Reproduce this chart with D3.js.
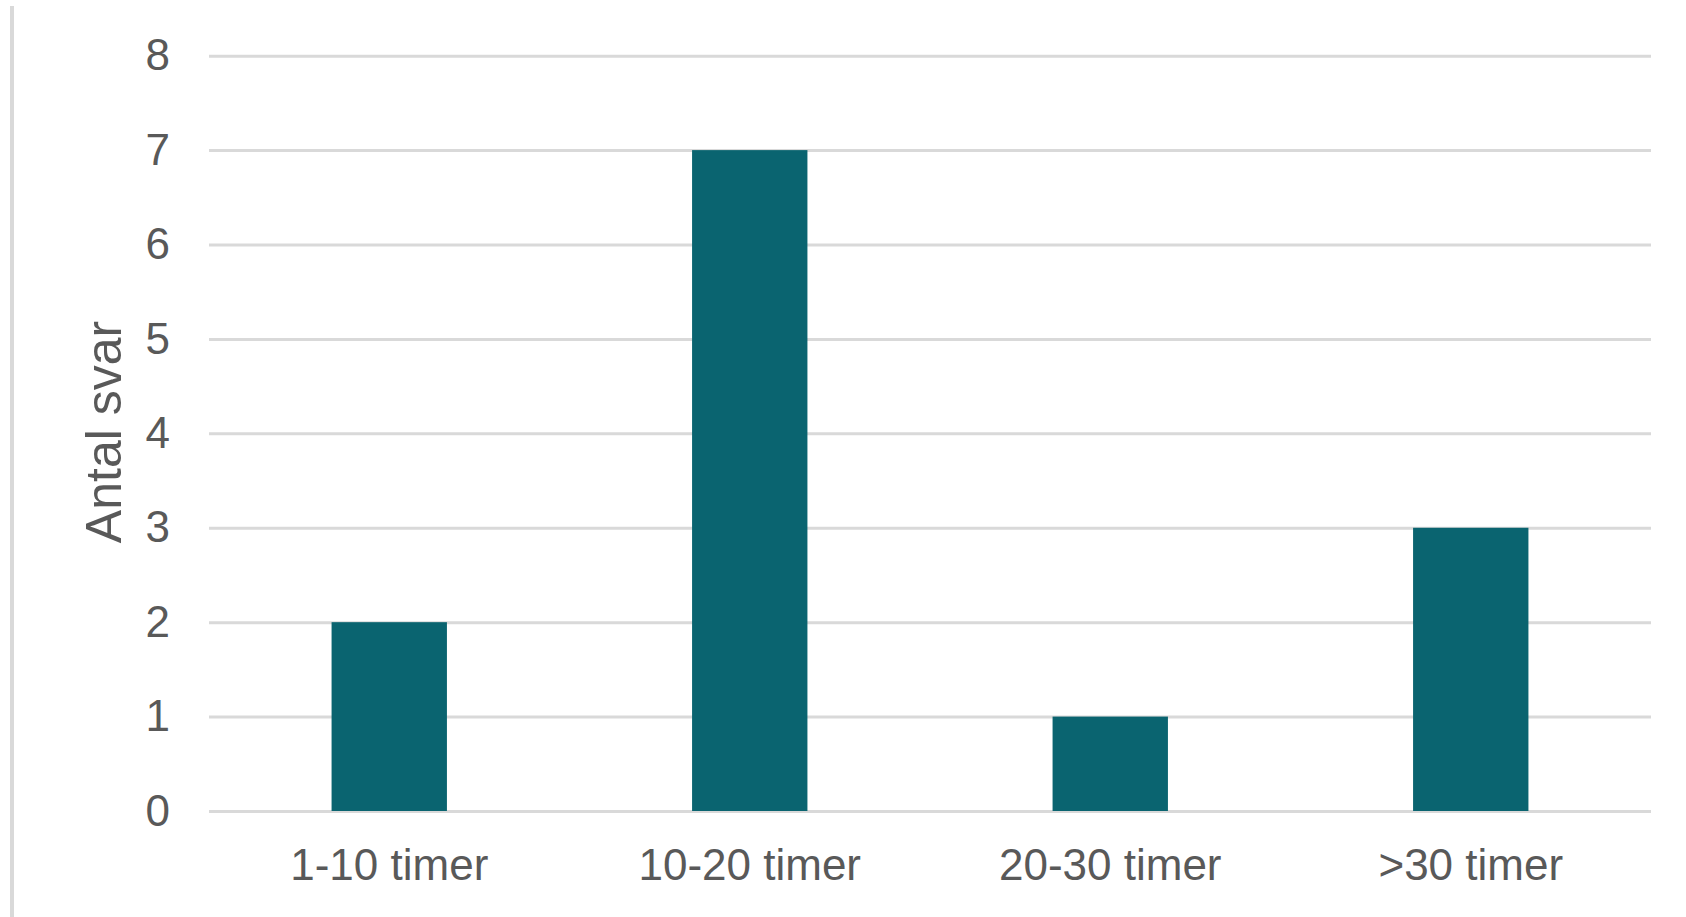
<!DOCTYPE html>
<html>
<head>
<meta charset="utf-8">
<script src="https://cdn.jsdelivr.net/npm/d3@7"></script>
<style>
  html, body { margin: 0; padding: 0; background: #ffffff; }
  svg { display: block; }
  text { font-family: "Liberation Sans", Arial, sans-serif; fill: #595959; }
</style>
</head>
<body>
<script>
const categories = ["1-10 timer", "10-20 timer", "20-30 timer", ">30 timer"];
const values = [2, 7, 1, 3];
const yTicks = [0, 1, 2, 3, 4, 5, 6, 7, 8];
const yTitle = "Antal svar";

const W = 1686, H = 917;
const svg = d3.select("body").append("svg").attr("width", W).attr("height", H);

const x = d3.scaleBand().domain(categories).range([209, 1651]).paddingInner(0.68).paddingOuter(0.34);
const y = d3.scaleLinear().domain([0, 8]).range([811, 55.7]);

// left border line
svg.append("rect").attr("x", 10).attr("y", 6).attr("width", 4).attr("height", H - 6).attr("fill", "#d9d9d9");

// gridlines
const yAxis = d3.axisLeft(y).tickValues(yTicks).tickSize(-(1651 - 209)).tickFormat(d3.format("d"));
const gy = svg.append("g").attr("transform", "translate(209,0)").call(yAxis);
gy.select(".domain").remove();
gy.selectAll(".tick line").attr("stroke", "#d9d9d9").attr("stroke-width", 3);
gy.selectAll(".tick text").attr("x", -39).attr("font-size", 44).attr("fill", "#595959")
  .attr("font-family", "Liberation Sans, Arial, sans-serif");

// bars
svg.append("g").selectAll("rect").data(values).join("rect")
  .attr("x", (d, i) => x(categories[i]))
  .attr("width", x.bandwidth())
  .attr("y", d => y(d))
  .attr("height", d => y(0) - y(d))
  .attr("fill", "#0a6470");

// x axis labels
const xAxis = d3.axisBottom(x).tickSize(0).tickPadding(0);
const gx = svg.append("g").attr("transform", "translate(0,811)").call(xAxis);
gx.select(".domain").remove();
gx.selectAll(".tick text").attr("dy", null).attr("y", 69).attr("font-size", 44).attr("fill", "#595959")
  .attr("font-family", "Liberation Sans, Arial, sans-serif");

// y title
svg.append("text")
  .attr("transform", "translate(121,432) rotate(-90)")
  .attr("text-anchor", "middle")
  .attr("font-size", 50)
  .text(yTitle);
</script>
</body>
</html>
